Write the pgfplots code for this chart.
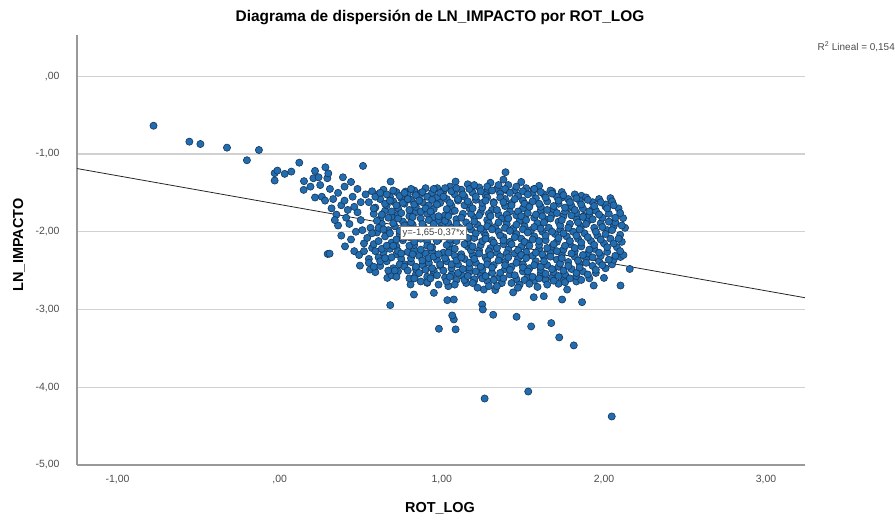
\documentclass[border=0pt]{standalone}
\usepackage{pgfplots}
\pgfplotsset{compat=1.18}
\usepackage{fontspec}
\setmainfont{Liberation Sans}
\definecolor{ptfill}{RGB}{34,108,176}
\definecolor{ptdraw}{RGB}{22,55,90}
\begin{document}
\begin{tikzpicture}[x=1bp,y=1bp]
\useasboundingbox (0,0) rectangle (895,520);
\begin{axis}[at={(77bp,55bp)}, anchor=south west, scale only axis,
 width=728bp, height=430bp,
 xmin=-1.25, xmax=3.24, ymin=-5, ymax=0.53,
 axis x line=bottom, axis y line=left,
 axis line style={draw=black!40, line width=1.2bp, -},
 xtick={-1,0,1,2,3}, xticklabels={{-1,00},{,00},{1,00},{2,00},{3,00}},
 ytick={-5,-4,-3,-2,-1,0}, yticklabels={{-5,00},{-4,00},{-3,00},{-2,00},{-1,00},{,00}},
 major tick length=0,
 ymajorgrids, grid style={black!18, line width=1.3bp},
 tick label style={font=\fontsize{10.5}{11}\selectfont, text=black!70},
 xticklabel style={yshift=-7bp}, yticklabel style={xshift=-14bp},
 clip=false]
\addplot[only marks, mark=*, mark size=3.6bp, mark options={fill=ptfill, draw=ptdraw, line width=0.6bp}] coordinates {
(-0.778,-0.637) (-0.557,-0.842) (-0.489,-0.872) (-0.325,-0.919) (-0.202,-1.081) (-0.128,-0.949) (-0.031,-1.247) (-0.014,-1.214) (-0.031,-1.342) (0.031,-1.256) (0.072,-1.227) (0.121,-1.112) (0.148,-1.462) (0.218,-1.218) (0.218,-1.560) (0.208,-1.312) (0.282,-1.171) (0.296,-2.286)
(1.264,-4.145) (1.533,-4.055) (2.048,-4.376) (1.814,-3.462) (1.724,-3.359) (1.675,-3.175) (1.551,-3.218) (1.461,-3.094) (1.317,-3.068) (1.865,-2.906) (2.102,-2.692) (2.0,-2.594) (1.937,-2.692) (2.159,-2.479) (2.102,-2.325) (1.773,-2.744) (1.742,-2.872) (1.567,-2.842) (1.629,-2.829)
(0.308,-2.282) (0.403,-2.188) (0.495,-2.436) (0.557,-2.487) (0.664,-2.594) (0.682,-2.944) (0.982,-3.248) (1.085,-3.256) (1.074,-3.128) (1.064,-3.077) (1.249,-2.936) (1.253,-3.0) (0.951,-2.786) (1.034,-2.88) (1.074,-2.872) (0.828,-2.808) (0.807,-2.679) (0.910,-2.658) (1.198,-2.637) (1.259,-2.744)
(0.514,-1.154) (0.294,-1.312) (0.684,-1.355) (0.777,-1.483) (1.085,-1.355) (1.188,-1.427) (0.972,-1.44) (0.869,-1.504) (1.393,-1.235) (1.567,-1.453) (1.681,-1.483) (1.742,-1.56) (1.861,-1.538) (2.04,-1.568) (2.118,-1.825) (1.783,-1.696) (1.927,-1.718) (2.009,-1.675) (1.876,-1.795) (1.280,-1.483) (1.393,-1.462)
(0.15,-1.35) (0.19,-1.42) (0.25,-1.40) (0.26,-1.55) (0.31,-1.45) (0.33,-1.58) (0.36,-1.50) (0.38,-1.66) (0.35,-1.78) (0.40,-1.42) (0.42,-1.72) (0.45,-1.55) (0.43,-1.90) (0.38,-2.05) (0.47,-2.00) (0.50,-1.85) (0.46,-2.25) (0.52,-2.15) (0.44,-1.36) (0.48,-1.45) (0.50,-1.62) (0.36,-1.92) (0.55,-2.35) (0.49,-2.30)
(0.32,-1.70) (0.34,-1.85) (0.40,-1.60) (0.41,-1.82) (0.44,-2.10) (0.48,-1.75) (0.51,-1.98) (0.53,-1.52) (0.52,-2.25) (0.39,-1.30) (0.28,-1.60) (0.30,-1.25) (0.24,-1.30) (0.46,-1.68)
(0.57,-1.48) (0.55,-1.62) (0.58,-1.77) (0.56,-1.95) (0.54,-2.08) (0.57,-2.21) (0.55,-2.40)
(0.61,-1.52) (0.59,-1.69) (0.62,-1.84) (0.60,-2.01) (0.58,-2.16) (0.61,-2.33) (0.59,-2.52)
(0.64,-1.46) (0.62,-1.58) (0.65,-1.73) (0.63,-1.90) (0.61,-2.12) (0.64,-2.27) (0.62,-2.44)
(0.68,-1.55) (0.66,-1.66) (0.69,-1.81) (0.67,-1.98) (0.65,-2.06) (0.68,-2.22) (0.66,-2.38) (0.69,-2.56)
(0.72,-1.49) (0.70,-1.61) (0.73,-1.78) (0.71,-1.93) (0.69,-2.14) (0.72,-2.29) (0.70,-2.47)
(0.75,-1.57) (0.73,-1.70) (0.76,-1.87) (0.74,-2.03) (0.72,-2.19) (0.75,-2.35) (0.73,-2.51)
(0.79,-1.52) (0.77,-1.64) (0.80,-1.80) (0.78,-1.96) (0.76,-2.11) (0.79,-2.26) (0.77,-2.42) (0.80,-2.60)
(0.83,-1.47) (0.81,-1.59) (0.84,-1.75) (0.82,-1.91) (0.80,-2.07) (0.83,-2.24) (0.81,-2.39) (0.84,-2.55)
(0.86,-1.54) (0.84,-1.68) (0.87,-1.83) (0.85,-2.00) (0.83,-2.17) (0.86,-2.31) (0.84,-2.48) (0.87,-2.64)
(0.90,-1.44) (0.88,-1.62) (0.91,-1.77) (0.89,-1.94) (0.87,-2.09) (0.90,-2.28) (0.88,-2.43) (0.91,-2.58)
(0.94,-1.50) (0.92,-1.66) (0.95,-1.81) (0.93,-1.97) (0.91,-2.13) (0.94,-2.25) (0.92,-2.40) (0.95,-2.53)
(0.97,-1.56) (0.95,-1.71) (0.98,-1.86) (0.96,-2.04) (0.94,-2.20) (0.97,-2.36) (0.95,-2.50) (0.98,-2.68)
(1.01,-1.48) (0.99,-1.63) (1.02,-1.79) (1.00,-1.92) (0.98,-2.10) (1.01,-2.27) (0.99,-2.44) (1.02,-2.59)
(1.05,-1.42) (1.03,-1.58) (1.06,-1.74) (1.04,-1.89) (1.02,-2.06) (1.05,-2.23) (1.03,-2.38) (1.06,-2.55) (1.04,-2.70)
(1.08,-1.52) (1.06,-1.67) (1.09,-1.84) (1.07,-1.99) (1.05,-2.15) (1.08,-2.31) (1.06,-2.47) (1.09,-2.62)
(1.12,-1.46) (1.10,-1.60) (1.13,-1.77) (1.11,-1.95) (1.09,-2.12) (1.12,-2.29) (1.10,-2.42) (1.13,-2.57)
(1.16,-1.39) (1.14,-1.55) (1.17,-1.70) (1.15,-1.88) (1.13,-2.02) (1.16,-2.19) (1.14,-2.35) (1.17,-2.52) (1.15,-2.66)
(1.19,-1.50) (1.17,-1.65) (1.20,-1.82) (1.18,-1.97) (1.16,-2.14) (1.19,-2.30) (1.17,-2.46) (1.20,-2.61)
(1.23,-1.43) (1.21,-1.59) (1.24,-1.75) (1.22,-1.91) (1.20,-2.08) (1.23,-2.24) (1.21,-2.40) (1.24,-2.56) (1.22,-2.72)
(1.27,-1.53) (1.25,-1.69) (1.28,-1.85) (1.26,-2.01) (1.24,-2.17) (1.27,-2.33) (1.25,-2.49) (1.28,-2.63)
(1.30,-1.37) (1.28,-1.56) (1.31,-1.72) (1.29,-1.89) (1.27,-2.05) (1.30,-2.21) (1.28,-2.37) (1.31,-2.53)
(1.34,-1.45) (1.32,-1.62) (1.35,-1.78) (1.33,-1.94) (1.31,-2.11) (1.34,-2.27) (1.32,-2.43) (1.35,-2.59) (1.33,-2.75)
(1.38,-1.33) (1.36,-1.51) (1.39,-1.67) (1.37,-1.83) (1.35,-2.00) (1.38,-2.16) (1.36,-2.32) (1.39,-2.48) (1.37,-2.66)
(1.41,-1.40) (1.39,-1.58) (1.42,-1.74) (1.40,-1.90) (1.38,-2.07) (1.41,-2.23) (1.39,-2.39) (1.42,-2.55)
(1.45,-1.47) (1.43,-1.63) (1.46,-1.79) (1.44,-1.96) (1.42,-2.13) (1.45,-2.28) (1.43,-2.45) (1.46,-2.61) (1.44,-2.78)
(1.49,-1.36) (1.47,-1.54) (1.50,-1.70) (1.48,-1.86) (1.46,-2.03) (1.49,-2.19) (1.47,-2.35) (1.50,-2.51) (1.48,-2.68)
(1.52,-1.44) (1.50,-1.60) (1.53,-1.76) (1.51,-1.93) (1.49,-2.09) (1.52,-2.26) (1.50,-2.42) (1.53,-2.58)
(1.56,-1.50) (1.54,-1.66) (1.57,-1.82) (1.55,-1.98) (1.53,-2.15) (1.56,-2.31) (1.54,-2.47) (1.57,-2.63)
(1.60,-1.41) (1.58,-1.57) (1.61,-1.73) (1.59,-1.89) (1.57,-2.06) (1.60,-2.22) (1.58,-2.38) (1.61,-2.54) (1.59,-2.71)
(1.63,-1.52) (1.61,-1.68) (1.64,-1.84) (1.62,-2.00) (1.60,-2.17) (1.63,-2.33) (1.61,-2.49) (1.64,-2.62)
(1.67,-1.47) (1.65,-1.61) (1.68,-1.78) (1.66,-1.95) (1.64,-2.11) (1.67,-2.27) (1.65,-2.43) (1.68,-2.59)
(1.71,-1.55) (1.69,-1.71) (1.72,-1.87) (1.70,-2.03) (1.68,-2.19) (1.71,-2.36) (1.69,-2.52) (1.72,-2.67)
(1.74,-1.49) (1.72,-1.64) (1.75,-1.80) (1.73,-1.97) (1.71,-2.13) (1.74,-2.29) (1.72,-2.45) (1.75,-2.60)
(1.78,-1.58) (1.76,-1.74) (1.79,-1.90) (1.77,-2.06) (1.75,-2.23) (1.78,-2.39) (1.76,-2.55)
(1.82,-1.52) (1.80,-1.67) (1.83,-1.83) (1.81,-2.00) (1.79,-2.16) (1.82,-2.32) (1.80,-2.48) (1.83,-2.64)
(1.85,-1.60) (1.83,-1.76) (1.86,-1.93) (1.84,-2.09) (1.82,-2.25) (1.85,-2.41) (1.83,-2.57)
(1.89,-1.56) (1.87,-1.70) (1.90,-1.86) (1.88,-2.02) (1.86,-2.19) (1.89,-2.35) (1.87,-2.51)
(1.93,-1.62) (1.91,-1.79) (1.94,-1.95) (1.92,-2.12) (1.90,-2.28) (1.93,-2.44) (1.91,-2.60)
(1.97,-1.58) (1.95,-1.73) (1.98,-1.89) (1.96,-2.05) (1.94,-2.22) (1.97,-2.38) (1.95,-2.53)
(2.01,-1.65) (1.99,-1.82) (2.02,-1.98) (2.00,-2.15) (1.98,-2.31) (2.01,-2.47)
(2.05,-1.61) (2.03,-1.77) (2.06,-1.93) (2.04,-2.09) (2.02,-2.26) (2.05,-2.42)
(2.09,-1.70) (2.07,-1.88) (2.10,-2.04) (2.08,-2.20) (2.06,-2.36)
(2.13,-1.95) (2.11,-2.13) (2.12,-2.30)
(0.59,-1.55) (0.58,-1.70) (0.60,-1.86) (0.57,-2.02) (0.59,-2.25) (0.58,-2.45)
(0.62,-1.50) (0.63,-1.78) (0.61,-1.95) (0.63,-2.22) (0.62,-2.38)
(0.66,-1.52) (0.65,-1.64) (0.67,-1.82) (0.64,-1.97) (0.66,-2.18) (0.65,-2.34) (0.67,-2.50)
(0.70,-1.47) (0.68,-1.60) (0.69,-1.74) (0.70,-1.89) (0.68,-2.02) (0.70,-2.18) (0.69,-2.33) (0.71,-2.50)
(0.74,-1.54) (0.72,-1.66) (0.73,-1.83) (0.74,-1.99) (0.72,-2.10) (0.73,-2.25) (0.74,-2.42) (0.72,-2.58)
(0.77,-1.50) (0.76,-1.63) (0.75,-1.76) (0.77,-1.92) (0.76,-2.08) (0.75,-2.28) (0.77,-2.45)
(0.81,-1.45) (0.79,-1.58) (0.80,-1.72) (0.81,-1.88) (0.79,-2.03) (0.80,-2.18) (0.81,-2.34) (0.79,-2.50)
(0.84,-1.53) (0.83,-1.65) (0.82,-1.81) (0.84,-1.97) (0.83,-2.13) (0.82,-2.29) (0.84,-2.45) (0.83,-2.60)
(0.88,-1.49) (0.86,-1.60) (0.87,-1.74) (0.88,-1.90) (0.86,-2.05) (0.87,-2.23) (0.88,-2.37) (0.86,-2.53)
(0.91,-1.55) (0.90,-1.70) (0.92,-1.85) (0.90,-2.02) (0.91,-2.18) (0.92,-2.34) (0.90,-2.49) (0.91,-2.65)
(0.95,-1.45) (0.94,-1.59) (0.93,-1.74) (0.95,-1.90) (0.94,-2.06) (0.93,-2.20) (0.95,-2.32) (0.94,-2.47) (0.93,-2.60)
(0.99,-1.50) (0.97,-1.65) (0.98,-1.80) (0.99,-1.96) (0.97,-2.12) (0.98,-2.29) (0.99,-2.42) (0.97,-2.56)
(1.02,-1.44) (1.01,-1.55) (1.03,-1.71) (1.02,-1.86) (1.01,-2.00) (1.03,-2.17) (1.02,-2.34) (1.01,-2.50) (1.03,-2.64)
(1.06,-1.48) (1.05,-1.63) (1.04,-1.80) (1.06,-1.95) (1.05,-2.10) (1.04,-2.27) (1.06,-2.42) (1.05,-2.58)
(1.09,-1.44) (1.10,-1.58) (1.08,-1.73) (1.09,-1.90) (1.10,-2.06) (1.08,-2.22) (1.09,-2.37) (1.10,-2.53) (1.08,-2.68)
(1.13,-1.52) (1.14,-1.66) (1.12,-1.82) (1.13,-2.00) (1.14,-2.16) (1.12,-2.33) (1.13,-2.48) (1.14,-2.62)
(1.17,-1.45) (1.16,-1.61) (1.18,-1.77) (1.17,-1.93) (1.16,-2.08) (1.18,-2.24) (1.17,-2.40) (1.16,-2.57)
(1.20,-1.40) (1.21,-1.55) (1.19,-1.70) (1.20,-1.87) (1.21,-2.02) (1.19,-2.19) (1.20,-2.35) (1.21,-2.51) (1.19,-2.66)
(1.24,-1.48) (1.25,-1.63) (1.23,-1.79) (1.24,-1.96) (1.25,-2.12) (1.23,-2.28) (1.24,-2.45) (1.25,-2.60)
(1.28,-1.42) (1.27,-1.60) (1.29,-1.77) (1.28,-1.93) (1.27,-2.09) (1.29,-2.25) (1.28,-2.42) (1.27,-2.57) (1.29,-2.70)
(1.31,-1.47) (1.32,-1.63) (1.30,-1.80) (1.31,-1.97) (1.32,-2.14) (1.30,-2.30) (1.31,-2.46) (1.32,-2.62)
(1.35,-1.40) (1.36,-1.56) (1.34,-1.72) (1.35,-1.88) (1.36,-2.05) (1.34,-2.21) (1.35,-2.37) (1.36,-2.53) (1.34,-2.70)
(1.39,-1.45) (1.38,-1.62) (1.40,-1.78) (1.39,-1.95) (1.38,-2.11) (1.40,-2.28) (1.39,-2.43) (1.38,-2.60)
(1.42,-1.50) (1.43,-1.66) (1.41,-1.83) (1.42,-1.99) (1.43,-2.16) (1.41,-2.33) (1.42,-2.49) (1.43,-2.66)
(1.46,-1.42) (1.45,-1.58) (1.47,-1.74) (1.46,-1.91) (1.45,-2.07) (1.47,-2.24) (1.46,-2.40) (1.45,-2.56) (1.47,-2.72)
(1.50,-1.48) (1.51,-1.64) (1.49,-1.80) (1.50,-1.97) (1.51,-2.13) (1.49,-2.30) (1.50,-2.46) (1.51,-2.62)
(1.53,-1.52) (1.54,-1.68) (1.52,-1.85) (1.53,-2.01) (1.54,-2.18) (1.52,-2.34) (1.53,-2.51) (1.54,-2.67)
(1.57,-1.45) (1.56,-1.61) (1.58,-1.78) (1.57,-1.94) (1.56,-2.10) (1.58,-2.27) (1.57,-2.43) (1.56,-2.58)
(1.61,-1.49) (1.60,-1.64) (1.62,-1.80) (1.61,-1.96) (1.60,-2.12) (1.62,-2.29) (1.61,-2.45) (1.60,-2.60)
(1.64,-1.56) (1.65,-1.72) (1.63,-1.88) (1.64,-2.05) (1.65,-2.21) (1.63,-2.38) (1.64,-2.54) (1.65,-2.68)
(1.68,-1.51) (1.69,-1.67) (1.67,-1.83) (1.68,-2.00) (1.69,-2.16) (1.67,-2.32) (1.68,-2.48) (1.69,-2.63)
(1.72,-1.60) (1.71,-1.76) (1.73,-1.92) (1.72,-2.08) (1.71,-2.25) (1.73,-2.41) (1.72,-2.57)
(1.75,-1.53) (1.76,-1.69) (1.74,-1.85) (1.75,-2.02) (1.76,-2.18) (1.74,-2.34) (1.75,-2.50) (1.76,-2.65)
(1.79,-1.62) (1.80,-1.79) (1.78,-1.95) (1.79,-2.12) (1.80,-2.28) (1.78,-2.44) (1.79,-2.60)
(1.83,-1.57) (1.82,-1.72) (1.84,-1.88) (1.83,-2.05) (1.82,-2.21) (1.84,-2.37) (1.83,-2.53)
(1.86,-1.65) (1.87,-1.81) (1.85,-1.97) (1.86,-2.14) (1.87,-2.30) (1.85,-2.46) (1.86,-2.62)
(1.90,-1.59) (1.91,-1.74) (1.89,-1.90) (1.90,-2.07) (1.91,-2.23) (1.89,-2.40) (1.90,-2.55)
(1.94,-1.67) (1.93,-1.84) (1.95,-2.00) (1.94,-2.17) (1.93,-2.33) (1.95,-2.49)
(1.98,-1.62) (1.97,-1.78) (1.99,-1.94) (1.98,-2.10) (1.97,-2.27) (1.99,-2.43)
(2.02,-1.70) (2.03,-1.87) (2.01,-2.03) (2.02,-2.20) (2.03,-2.36)
(2.06,-1.66) (2.07,-1.82) (2.05,-1.98) (2.06,-2.15) (2.07,-2.31)
(2.10,-1.76) (2.11,-1.92) (2.09,-2.09) (2.10,-2.25)
};
\addplot[black!85, line width=0.8bp] coordinates {(-1.25,-1.1875) (3.24,-2.8488)};
\coordinate (eq) at (axis cs:0.949,-2.013);
\end{axis}
\node[draw=black!50, fill=white, inner sep=2bp, font=\fontsize{9.5}{10}\selectfont, text=black!75] at (eq) {y=-1,65-0,37*x};
\node[font=\bfseries\fontsize{15.5}{17}\selectfont] at (440,503) {Diagrama de dispersión de LN\_IMPACTO por ROT\_LOG};
\node[rotate=90, font=\bfseries\fontsize{14.5}{16}\selectfont] at (19,275) {LN\_IMPACTO};
\node[font=\bfseries\fontsize{14.5}{16}\selectfont] at (440,12) {ROT\_LOG};
\node[anchor=east, font=\fontsize{10}{11}\selectfont, text=black!70, inner sep=0pt] at (895,473) {R\textsuperscript{2} Lineal = 0,154};
\end{tikzpicture}
\end{document}
